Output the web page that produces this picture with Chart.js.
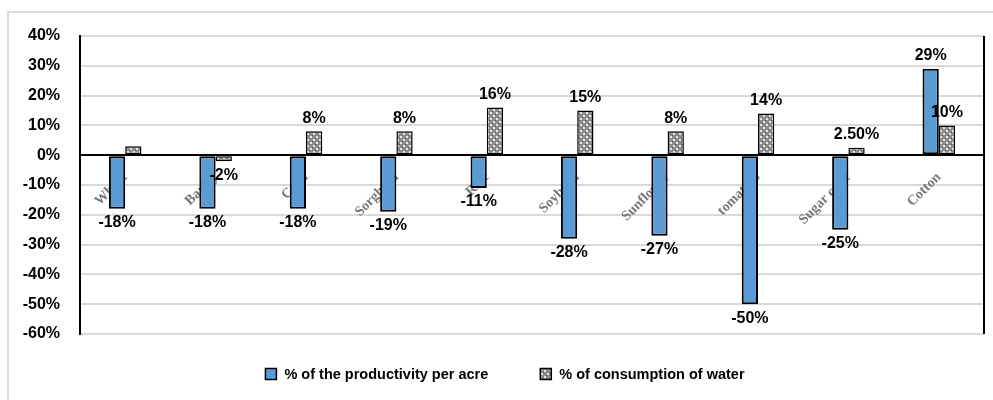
<!DOCTYPE html>
<html>
<head>
<meta charset="utf-8">
<script src="https://cdn.jsdelivr.net/npm/chart.js@4.4.1/dist/chart.umd.min.js"></script>
<style>
  html, body { margin: 0; padding: 0; background: #fff; }
  #wrap { position: relative; width: 993px; height: 400px; }
  canvas { display: block; }
</style>
</head>
<body>
<div id="wrap"><canvas id="c" width="993" height="400"></canvas></div>
<script>
// Crops compared
const crops = ['Wheat', 'Barley', 'Corn', 'Sorghum', 'Rice', 'Soybean', 'Sunflower', 'tomatoes', 'Sugar cane', 'Cotton'];

// Change in productivity per acre (%)
const productivity = [-18, -18, -18, -19, -11, -28, -27, -50, -25, 29];
const productivityLabels = ['-18%', '-18%', '-18%', '-19%', '-11%', '-28%', '-27%', '-50%', '-25%', '29%'];

// Change in water consumption (%)
const water = [3, -2, 8, 8, 16, 15, 8, 14, 2.5, 10];
const waterLabels = [null, '-2%', '8%', '8%', '16%', '15%', '8%', '14%', '2.50%', '10%'];

// Y axis range and ticks
const yMin = -60, yMax = 40, yStep = 10;

const FONT = '"Liberation Sans", Arial, sans-serif';

// Dotted grey fill used for the water series
function makePattern() {
  const p = document.createElement('canvas');
  p.width = 6; p.height = 6;
  const g = p.getContext('2d');
  g.fillStyle = '#8c8c8c';
  g.fillRect(0, 0, 6, 6);
  g.fillStyle = '#e6e6e6';
  g.fillRect(1, 1, 2, 2);
  g.fillRect(4, 4, 2, 2);
  g.fillStyle = '#5a5a5a';
  g.fillRect(3, 0, 1, 1);
  g.fillRect(0, 3, 1, 1);
  return g.createPattern(p, 'repeat');
}
const ctx = document.getElementById('c').getContext('2d');
const waterFill = makePattern();

// Frame around the chart, the plot's right edge and the legend
const framePlugin = {
  id: 'frame',
  beforeDraw(chart) {
    const c = chart.ctx;
    c.save();
    c.fillStyle = '#fff';
    c.fillRect(0, 0, chart.width, chart.height);
    c.strokeStyle = '#d9d9d9';
    c.lineWidth = 2;
    c.beginPath();
    c.moveTo(8, chart.height + 5);
    c.lineTo(8, 12);
    c.lineTo(chart.width + 5, 12);
    c.stroke();
    c.restore();
  },
  afterDraw(chart) {
    const a = chart.chartArea;
    const c = chart.ctx;
    c.save();
    c.strokeStyle = '#000';
    c.lineWidth = 2;
    c.beginPath();
    c.moveTo(a.right, a.top);
    c.lineTo(a.right, a.bottom);
    c.stroke();

    // legend row under the plot
    const items = chart.data.datasets.map(d => ({ text: d.label, fill: d.backgroundColor }));
    c.font = 'bold 14.5px ' + FONT;
    c.textBaseline = 'middle';
    c.textAlign = 'left';
    const box = 11, gapBox = 8, gapItem = 52;
    const widths = items.map(it => box + gapBox + c.measureText(it.text).width);
    const total = widths.reduce((s, w) => s + w, 0) + gapItem * (items.length - 1);
    let x = 505 - total / 2;
    const y = 374;
    items.forEach((it, i) => {
      c.fillStyle = it.fill;
      c.fillRect(x, y - box / 2, box, box);
      c.strokeStyle = '#000';
      c.lineWidth = 1.5;
      c.strokeRect(x, y - box / 2, box, box);
      c.fillStyle = '#000';
      c.fillText(it.text, x + box + gapBox, y + 1);
      x += widths[i] + gapItem;
    });
    c.restore();
  }
};

// Value labels at the end of each bar
const valueLabels = {
  id: 'valueLabels',
  afterDatasetsDraw(chart) {
    const c = chart.ctx;
    const sets = [productivityLabels, waterLabels];
    c.save();
    c.font = 'bold 16px ' + FONT;
    c.fillStyle = '#000';
    c.textAlign = 'center';
    sets.forEach((labels, di) => {
      const meta = chart.getDatasetMeta(di);
      const vals = chart.data.datasets[di].data;
      meta.data.forEach((bar, i) => {
        const txt = labels[i];
        if (!txt) return;
        if (vals[i] >= 0) {
          c.textBaseline = 'bottom';
          c.fillText(txt, bar.x, bar.y - 5);
        } else {
          c.textBaseline = 'top';
          c.fillText(txt, bar.x, bar.y + 6);
        }
      });
    });
    c.restore();
  }
};

new Chart(ctx, {
  type: 'bar',
  data: {
    labels: crops,
    datasets: [
      {
        label: '% of the productivity per acre',
        data: productivity,
        backgroundColor: '#5b9bd5',
        borderColor: '#000',
        borderWidth: 2,
        borderSkipped: false
      },
      {
        label: '% of consumption of water',
        data: water,
        backgroundColor: waterFill,
        borderColor: '#000',
        borderWidth: 1.5,
        borderSkipped: false
      }
    ]
  },
  options: {
    responsive: false,
    animation: false,
    devicePixelRatio: 1,
    layout: { padding: { left: 8, right: 9, top: 36, bottom: 66 } },
    datasets: { bar: { categoryPercentage: 0.36, barPercentage: 1 } },
    plugins: {
      legend: { display: false },
      tooltip: { enabled: false }
    },
    scales: {
      x: {
        position: { y: 0 },
        grid: { display: false },
        border: { color: '#000', width: 2 },
        ticks: {
          minRotation: 45,
          maxRotation: 45,
          padding: 6,
          color: '#777',
          font: { family: '"Liberation Serif", "DejaVu Serif", serif', size: 14, weight: 'bold' }
        }
      },
      y: {
        min: yMin,
        max: yMax,
        afterFit(scale) { scale.width = 72; },
        ticks: {
          stepSize: yStep,
          padding: 20,
          color: '#000',
          font: { family: FONT, size: 16, weight: 'bold' },
          callback: v => v + '%'
        },
        grid: { color: '#d9d9d9', lineWidth: 2, drawTicks: false },
        border: { color: '#000', width: 2 }
      }
    }
  },
  plugins: [framePlugin, valueLabels]
});
</script>
</body>
</html>
